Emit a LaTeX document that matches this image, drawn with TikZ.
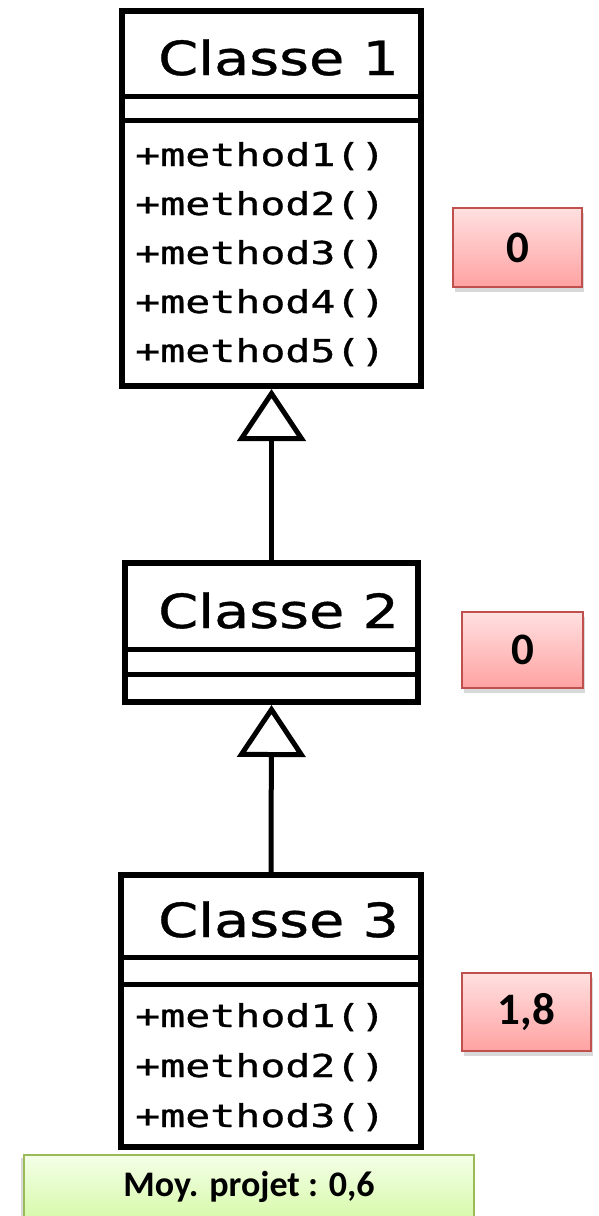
\documentclass[tikz,border=0pt]{standalone}
\usepackage{fontspec}
\setmainfont{Carlito}
\newfontfamily\umlfont[FakeStretch=1.22,FakeBold=0.8]{DejaVu Sans}
\newfontfamily\umlmono[FakeStretch=1.32,FakeBold=1]{DejaVu Sans Mono}
\usetikzlibrary{arrows.meta,shadows}
\definecolor{scoreline}{RGB}{192,80,77}
\definecolor{scoretop}{RGB}{255,224,224}
\definecolor{scorebot}{RGB}{255,162,162}
\definecolor{avgline}{RGB}{155,187,89}
\definecolor{avgtop}{RGB}{244,255,232}
\definecolor{avgbot}{RGB}{214,249,168}

\begin{document}
\begin{tikzpicture}[x=1pt,y=-1pt,
    classbox/.style={draw=black,line width=6pt,fill=white,inner sep=0pt},
    divider/.style={line width=5pt},
    title/.style={anchor=base west,inner sep=0pt,font=\umlfont\fontsize{47}{47}\selectfont},
    method/.style={anchor=base west,inner sep=0pt,font=\umlmono\fontsize{31.5}{31.5}\selectfont},
    inherit/.style={line width=5pt,-{Triangle[open,length=52pt,width=68pt]}},
    score/.style={draw=scoreline,line width=1.5pt,top color=scoretop,bottom color=scorebot,
        font=\bfseries\fontsize{45}{45}\selectfont,
        drop shadow={opacity=0.3,shadow xshift=2pt,shadow yshift=-5pt}},
    average/.style={draw=avgline,line width=2pt,top color=avgtop,bottom color=avgbot,
        font=\bfseries\fontsize{36}{36}\selectfont,minimum width=450pt,
        text height=24pt,text depth=8pt,inner ysep=17pt,
        drop shadow={opacity=0.3,shadow xshift=-3pt,shadow yshift=-3pt}},
    ]
    \useasboundingbox (0,0) rectangle (598,1216);
    \clip (0,0) rectangle (598,1216);

    % class frames
    \node[classbox,minimum width=299pt,minimum height=375pt] (c1) at (271.5,198.5) {};
    \node[classbox,minimum width=293pt,minimum height=139pt] (c2) at (271.5,632.5) {};
    \node[classbox,minimum width=300pt,minimum height=272pt] (c3) at (271,1011) {};

    \draw[divider] ([yshift=-88.5pt]c1.north west) -- ([yshift=-88.5pt]c1.north east);
    \draw[divider] ([yshift=-112.5pt]c1.north west) -- ([yshift=-112.5pt]c1.north east);
    \draw[divider] ([yshift=-89pt]c2.north west) -- ([yshift=-89pt]c2.north east);
    \draw[divider] ([yshift=-114pt]c2.north west) -- ([yshift=-114pt]c2.north east);
    \draw[divider] ([yshift=-85pt]c3.north west) -- ([yshift=-85pt]c3.north east);
    \draw[divider] ([yshift=-112pt]c3.north west) -- ([yshift=-112pt]c3.north east);

    \node[title] (t1) at (158,75) {Classe 1};
    \node[title] (t2) at (158,628) {Classe 2};
    \node[title] (t3) at (158,937) {Classe 3};

    \node[method] (c1m1) at (135,166) {+method1()};
    \node[method] (c1m2) at (135,215) {+method2()};
    \node[method] (c1m3) at (135,264) {+method3()};
    \node[method] (c1m4) at (135,313) {+method4()};
    \node[method] (c1m5) at (135,362) {+method5()};
    \node[method] (c3m1) at (135,1027) {+method1()};
    \node[method] (c3m2) at (135,1077) {+method2()};
    \node[method] (c3m3) at (135,1127) {+method3()};

    % generalisation
    \draw[inherit] (c2.north) -- (c1.south);
    \draw[inherit] (c3.north) -- (c2.south);

    % notes
    \node[score,minimum width=129pt,minimum height=79pt] (s1) at (517.5,247.5) {0};
    \node[score,minimum width=121pt,minimum height=76pt] (s2) at (522.5,650) {0};
    \node[score,minimum width=129pt,minimum height=78pt] (s3) at (526.5,1012) {1,8};
    \node[average,anchor=north] (avg) at (249,1154) {Moy. projet : 0,6};
\end{tikzpicture}
\end{document}
